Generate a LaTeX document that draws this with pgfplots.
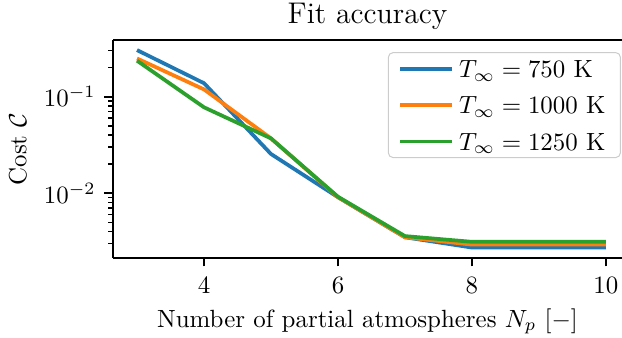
\documentclass[border=0pt]{standalone}
\usepackage{pgfplots}
\pgfplotsset{compat=1.18}
\usetikzlibrary{calc}
\definecolor{tabblue}{HTML}{1F77B4}
\definecolor{taborange}{HTML}{FF7F0E}
\definecolor{tabgreen}{HTML}{2CA02C}
\begin{document}
\begin{tikzpicture}
\begin{semilogyaxis}[
  scale only axis,
  width=204.4pt, height=87.4pt,
  xmin=2.642, xmax=10.24,
  ymin=0.00215, ymax=0.386,
  axis x line=box,
  axis y line*=left,
  axis line style={-, line width=0.8pt},
  xtick={4,6,8,10},
  xtick pos=bottom, ytick pos=left,
  tick align=outside,
  major tick length=3.5pt, minor tick length=2pt,
  every tick/.style={black, line width=0.8pt},
  minor tick style={line width=0.6pt},
  xticklabel style={yshift=-1pt},
  title={Fit accuracy},
  title style={font=\large, at={(0.5,1)}, anchor=base, yshift=0.6pt, inner ysep=1.5pt},
  xlabel={Number of partial atmospheres $N_p$ [$-$]},
  xlabel style={yshift=1pt},
  ylabel={Cost $\mathcal{C}$},
  legend cell align=left,
  legend image code/.code={\draw[#1] (0pt,0pt) -- (21pt,0pt);},
  legend style={at={(rel axis cs:0.998,0.945)}, anchor=north east,
    draw=black!20, rounded corners=2pt, fill=white, fill opacity=0.8, text opacity=1,
    inner xsep=4pt, inner ysep=1.5pt, row sep=4.6pt, font=\normalsize,
    nodes={inner ysep=1.5pt, text height=7pt, text depth=0pt}},
]
\addplot[tabblue, line width=1.5pt] coordinates {(3,0.304) (4,0.138) (5,0.0255) (6,0.0091) (7,0.0035) (8,0.00274) (9,0.00274) (10,0.00274)};
\addlegendentry{$T_\infty = 750$ K}
\addplot[taborange, line width=1.5pt] coordinates {(3,0.249) (4,0.119) (5,0.037) (6,0.0091) (7,0.0035) (8,0.00294) (9,0.00294) (10,0.00294)};
\addlegendentry{$T_\infty = 1000$ K}
\addplot[tabgreen, line width=1.5pt] coordinates {(3,0.236) (4,0.0777) (5,0.037) (6,0.0092) (7,0.0036) (8,0.00314) (9,0.00314) (10,0.00314)};
\addlegendentry{$T_\infty = 1250$ K}
\end{semilogyaxis}
\pgfresetboundingbox
\path[use as bounding box] ($(current axis.south west)+(-45.4pt,-32.1pt)$) rectangle ($(current axis.north east)+(0pt,16.1pt)$);
\end{tikzpicture}
\end{document}
